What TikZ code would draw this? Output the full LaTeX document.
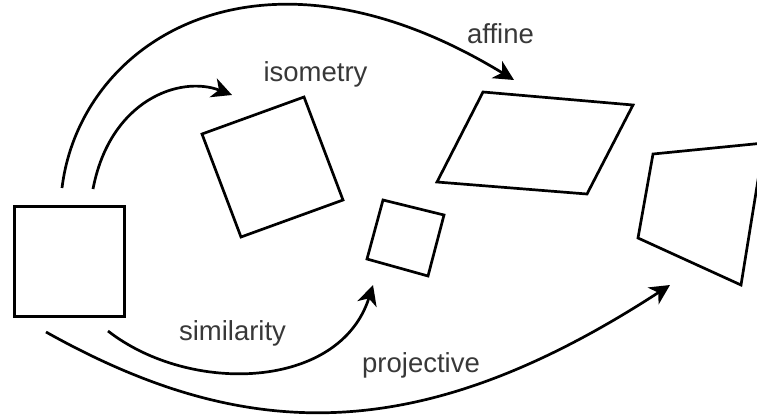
\documentclass[tikz,border=0pt]{standalone}
\usepackage{fontspec}
\setmainfont{Liberation Sans}
\usetikzlibrary{arrows.meta}
\begin{document}
\begin{tikzpicture}[x=1pt,y=-1pt,
  fig/.style={draw=black,line width=2.7pt,line join=miter},
  conn/.style={draw=black,line width=2.7pt,-{Stealth[length=20pt,width=20pt,inset=6pt]}},
  lbl/.style={text=black!78,font=\fontsize{27.5}{33}\selectfont,inner sep=0pt,anchor=base}]
\useasboundingbox (0,0) rectangle (757,416);
% source square
\node[fig,minimum size=110pt,inner sep=0pt] (src) at (69.3,261.3) {};
% isometry square
\draw[fig] (202,134) -- (304,97) -- (343,200) -- (241,237) -- cycle;
% affine parallelogram
\draw[fig] (483,92) -- (633,105) -- (587,194) -- (437,182) -- cycle;
% similarity square
\draw[fig] (383,200) -- (444,215) -- (428,276) -- (367,259) -- cycle;
% projective quad
\draw[fig] (653,154) -- (764,143) -- (741,285) -- (638,238) -- cycle;
% labels
\node[lbl] (liso) at (315.5,81) {isometry};
\node[lbl] (laff) at (500.5,43) {affine};
\node[lbl] (lsim) at (232.5,340) {similarity};
\node[lbl] (lpro) at (421,372) {projective};
% connector ends
\coordinate (affS) at (62,188);
\coordinate (affE) at (514,80);
\coordinate (isoS) at (93,189);
\coordinate (isoE) at (232,95);
\coordinate (simS) at (108,331);
\coordinate (simE) at (373,285);
\coordinate (proS) at (46,332);
\coordinate (proE) at (670,285);
% connectors
\draw[conn] (affS) .. controls (80,40) and (260,-75) .. (affE);
\draw[conn] (isoS) .. controls (110,100) and (180,75) .. (isoE);
\draw[conn] (simS) .. controls (190,395) and (340,390) .. (simE);
\draw[conn] (proS) .. controls (246,444) and (420,447.5) .. (proE);
\end{tikzpicture}
\end{document}
